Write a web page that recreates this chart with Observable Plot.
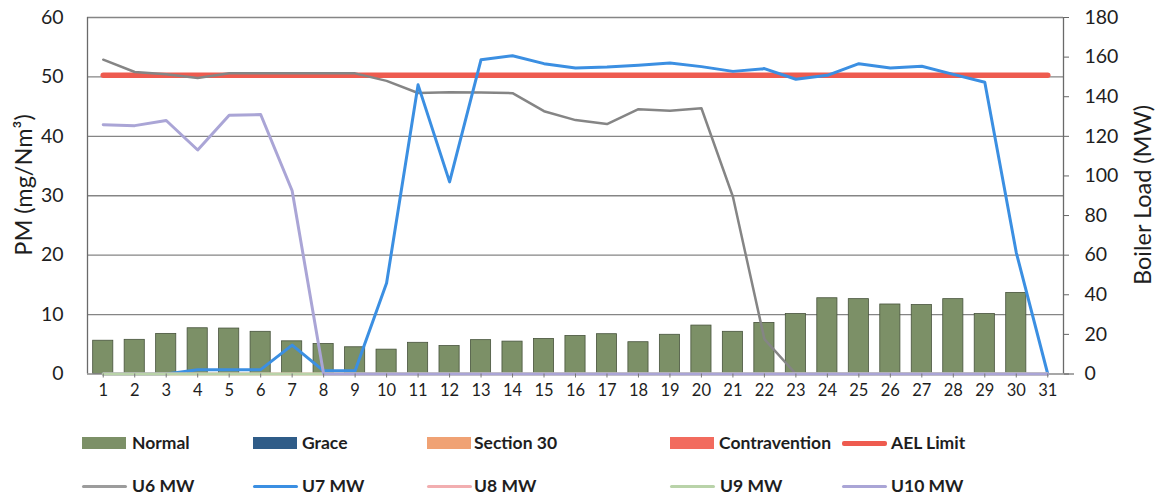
<!DOCTYPE html>
<html><head><meta charset="utf-8">
<script src="https://cdn.jsdelivr.net/npm/d3@7"></script>
<script src="https://cdn.jsdelivr.net/npm/@observablehq/plot@0.6"></script>
<style>
body{margin:0;background:#fff;font-family:Lato,"Open Sans",sans-serif;}
#wrap{position:relative;width:1160px;height:502px;overflow:hidden;}
.leg{position:absolute;font-size:17.5px;font-weight:700;color:#1e1e1e;line-height:20px;white-space:nowrap;}
.sw{position:absolute;}
.ytitle{position:absolute;font-size:23.5px;color:#1e1e1e;white-space:nowrap;transform-origin:center center;line-height:26px;}
</style></head><body><div id="wrap"></div>
<script>
// categories (day of month)
const days = [1,2,3,4,5,6,7,8,9,10,11,12,13,14,15,16,17,18,19,20,21,22,23,24,25,26,27,28,29,30,31];
// PM, mg/Nm3 (left axis) - Normal status bars
const normalPM = [5.6,5.75,6.75,7.7,7.65,7.1,5.5,5.05,4.5,4.1,5.25,4.7,5.7,5.45,5.9,6.4,6.7,5.35,6.6,8.15,7.1,8.6,10.1,12.75,12.6,11.7,11.6,12.6,10.1,13.65,0];
// AEL limit, mg/Nm3
const aelLimit = [50.3,50.3,50.3,50.3,50.3,50.3,50.3,50.3,50.3,50.3,50.3,50.3,50.3,50.3,50.3,50.3,50.3,50.3,50.3,50.3,50.3,50.3,50.3,50.3,50.3,50.3,50.3,50.3,50.3,50.3,50.3];
// Boiler loads, MW (right axis)
const u6MW = [158.7,152.5,151.3,149.5,151.8,151.8,151.8,151.8,151.8,148,141.9,142.3,142.1,141.8,132.7,128.2,126.2,133.7,132.9,134.2,89.5,17.6,0,0,0,0,0,0,0,0,0];
const u7MW = [0,0,0,2.2,2.2,2.2,14.6,1.6,1.6,46,146,97,158.7,160.7,156.7,154.5,155,155.9,157,155.2,152.8,154.2,148.8,150.8,156.7,154.5,155.4,151.3,147.3,61.3,0];
const u8MW = [0,0,0,0,0,0,0,0,0,0,0,0,0,0,0,0,0,0,0,0,0,0,0,0,0,0,0,0,0,0,0];
const u9MW = [0,0,0,0,0,0,0,0,0,0,0,0,0,0,0,0,0,0,0,0,0,0,0,0,0,0,0,0,0,0,0];
const u10MW = [125.9,125.4,128,113.1,130.7,131,92.5,0,0,0,0,0,0,0,0,0,0,0,0,0,0,0,0,0,0,0,0,0,0,0,0];
// axis ticks
const pmTicks = [0,10,20,30,40,50,60];
const mwTicks = [0,20,40,60,80,100,120,140,160,180];
const mwMax = 180, pmMax = 60;

const colors = {
  normal:"#7c9067", normalStroke:"#47533c", grace:"#2f5c88", s30:"#f0a274", contra:"#f26b5e",
  ael:"#ee5b4f", u6:"#858585", u7:"#3b8fe2", u8:"#f2aeb0", u9:"#b9d3a9", u10:"#aaa5d6"
};

const bars = days.map((d,i)=>({day:d, v:normalPM[i]}));
const k = pmMax/mwMax;
const series = (arr)=>days.map((d,i)=>({day:d, v:arr[i]*k}));

const plot = Plot.plot({
  width:1160, height:405,
  marginLeft:87, marginRight:97, marginTop:17, marginBottom:31.5,
  style:{fontFamily:"Lato, 'Open Sans', sans-serif", color:"#1e1e1e", background:"#fff"},
  x:{domain:[0.5,31.5]},
  y:{domain:[0,pmMax]},
  marks:[
    Plot.gridY(pmTicks.slice(1), {stroke:"#858585", strokeOpacity:1, strokeWidth:1.4}),
    Plot.rectY(bars, {x1:d=>d.day-0.32, x2:d=>d.day+0.32, y:"v", fill:colors.normal, stroke:colors.normalStroke, strokeWidth:0.8}),
    Plot.ruleX([0.5], {y1:0, y2:pmMax, stroke:"#6a6a6a", strokeWidth:1.3}),
    Plot.ruleX([31.5], {y1:0, y2:pmMax, stroke:"#6a6a6a", strokeWidth:1.3}),
    Plot.ruleY([0], {x1:0.5, x2:31.85, stroke:"#8a8a8a", strokeWidth:1.3}),
    Plot.line(days.map((d,i)=>({day:d, v:aelLimit[i]})), {x:"day", y:"v", stroke:colors.ael, strokeWidth:5.5}),
    Plot.line(series(u6MW), {x:"day", y:"v", stroke:colors.u6, strokeWidth:2.5}),
    Plot.line(series(u7MW), {x:"day", y:"v", stroke:colors.u7, strokeWidth:3}),
    Plot.line(series(u8MW), {x:"day", y:"v", stroke:colors.u8, strokeWidth:3}),
    Plot.line(series(u9MW), {x:"day", y:"v", stroke:colors.u9, strokeWidth:3}),
    Plot.line(series(u10MW), {x:"day", y:"v", stroke:colors.u10, strokeWidth:3}),
    Plot.axisX({ticks:days, tickSize:4, tickPadding:6, fontSize:16.5, stroke:"#777", label:null, tickFormat:d=>String(d)}),
    Plot.axisY({anchor:"left", ticks:pmTicks, tickSize:0, tickPadding:24, fontSize:19.5, label:null}),
    Plot.axisY({anchor:"right", ticks:mwTicks.map(v=>v*k), tickSize:5, tickPadding:16, fontSize:19.5, stroke:"#666", label:null, tickFormat:d=>String(Math.round(d/k))})
  ]
});
const wrap = document.getElementById("wrap");
plot.style.position="absolute"; plot.style.left="0"; plot.style.top="0";
wrap.appendChild(plot);

function addTitle(text, cx, cy){
  const el=document.createElement("div"); el.className="ytitle"; el.textContent=text;
  wrap.appendChild(el);
  const w=el.offsetWidth, h=el.offsetHeight;
  el.style.left=(cx-w/2)+"px"; el.style.top=(cy-h/2)+"px"; el.style.transform="rotate(-90deg)";
}
addTitle("PM (mg/Nm³)", 22, 185);
addTitle("Boiler Load (MW)", 1142, 195);

// legend
const legendRows = [
  {y:443, items:[
    {label:"Normal", type:"rect", color:colors.normal, x:82, tx:132},
    {label:"Grace", type:"rect", color:colors.grace, x:253, tx:302},
    {label:"Section 30", type:"rect", color:colors.s30, x:427, tx:474},
    {label:"Contravention", type:"rect", color:colors.contra, x:670, tx:719},
    {label:"AEL Limit", type:"line", color:colors.ael, x:842, tx:891, w:5}
  ]},
  {y:486, items:[
    {label:"U6 MW", type:"line", color:"#9c9c9c", x:82, tx:132, w:3},
    {label:"U7 MW", type:"line", color:colors.u7, x:253, tx:302, w:3},
    {label:"U8 MW", type:"line", color:colors.u8, x:427, tx:474, w:3},
    {label:"U9 MW", type:"line", color:colors.u9, x:670, tx:720, w:3},
    {label:"U10 MW", type:"line", color:colors.u10, x:842, tx:891, w:3}
  ]}
];
for (const row of legendRows){
  for (const it of row.items){
    const sw=document.createElement("div"); sw.className="sw";
    if (it.type==="rect"){
      sw.style.cssText=`left:${it.x}px;top:${row.y-6}px;width:44px;height:12px;background:${it.color};`;
    } else {
      sw.style.cssText=`left:${it.x}px;top:${row.y-it.w/2}px;width:45px;height:${it.w}px;background:${it.color};border-radius:2px;`;
    }
    wrap.appendChild(sw);
    const t=document.createElement("div"); t.className="leg"; t.textContent=it.label;
    t.style.left=it.tx+"px"; t.style.top=(row.y-10)+"px";
    wrap.appendChild(t);
  }
}
</script></body></html>
